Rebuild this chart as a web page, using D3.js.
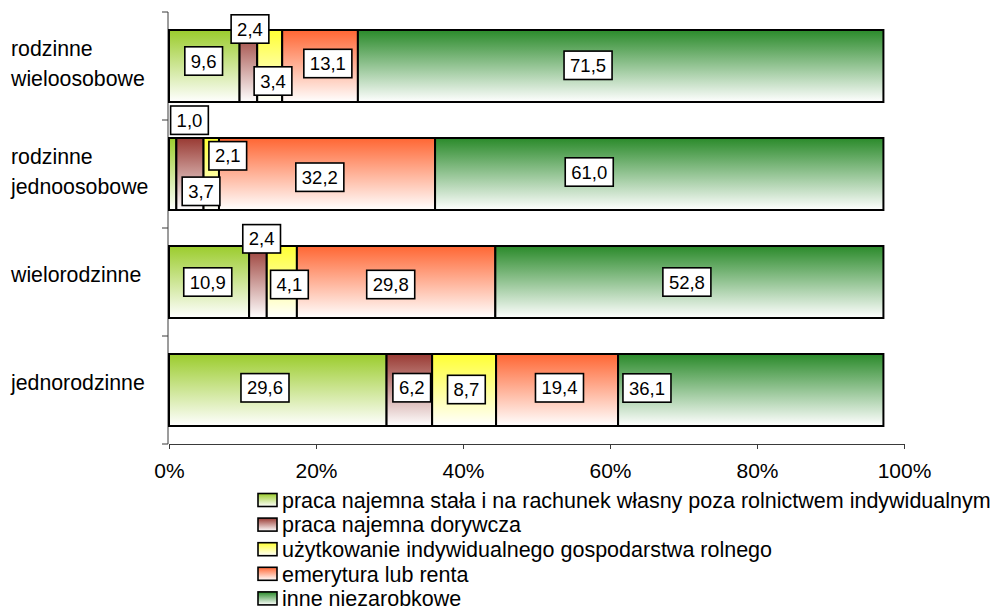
<!DOCTYPE html>
<html>
<head>
<meta charset="utf-8">
<script src="https://cdn.jsdelivr.net/npm/d3@7"></script>
<style>
  html, body { margin: 0; padding: 0; background: #fff; }
  svg text { font-family: "Liberation Sans", Arial, sans-serif; }
</style>
</head>
<body>
<svg id="chart" width="998" height="610"></svg>
<script>
// ---- data ----
const categories = ["rodzinne wieloosobowe", "rodzinne jednoosobowe", "wielorodzinne", "jednorodzinne"];
const categoryLines = [["rodzinne", "wieloosobowe"], ["rodzinne", "jednoosobowe"], ["wielorodzinne"], ["jednorodzinne"]];
const seriesNames = [
  "praca najemna stała i na rachunek własny poza rolnictwem indywidualnym",
  "praca najemna dorywcza",
  "użytkowanie indywidualnego gospodarstwa rolnego",
  "emerytura lub renta",
  "inne niezarobkowe"
];
const pracaStala    = [9.6, 1.0, 10.9, 29.6];
const pracaDorywcza = [2.4, 3.7, 2.4, 6.2];
const uzytkowanie   = [3.4, 2.1, 4.1, 8.7];
const emerytura     = [13.1, 32.2, 29.8, 19.4];   // printed labels
const emeryturaBar  = [10.3, 29.4, 27.0, 16.6];   // bar lengths as drawn in the picture
const inne          = [71.5, 61.0, 52.8, 36.1];
const xTicks = [0, 20, 40, 60, 80, 100];

// ---- styling / layout ----
const seriesColors = ["#9bcc2c", "#993a33", "#ffff33", "#ff6633", "#2a8a2a"];
const labelNudge = [
  [[-0.6, -5], [1.6, -37], [3.3, 15], [7.8, -2.5], [-32.6, -0.7]],
  [[16.8, -53.8], [11.1, 17.3], [16.5, -18.2], [-7.2, 3.2], [-70, -2]],
  [[-1.3, 0], [3.7, -43.2], [7.6, 2.5], [-5.4, 2.5], [-2.5, 0]],
  [[-12.8, -2.2], [2.4, -2.3], [2.3, -0.5], [2.4, -2.2], [-103.8, -2]]
];

const barValues = [pracaStala, pracaDorywcza, uzytkowanie, emeryturaBar, inne];
const labelValues = [pracaStala, pracaDorywcza, uzytkowanie, emerytura, inne];

const svg = d3.select("#chart");
const defs = svg.append("defs");
seriesColors.forEach((c, i) => {
  const g = defs.append("linearGradient").attr("id", "grad" + i)
    .attr("x1", 0).attr("y1", 0).attr("x2", 0).attr("y2", 1);
  g.append("stop").attr("offset", "0%").attr("stop-color", c);
  g.append("stop").attr("offset", "100%").attr("stop-color", "#ffffff");
});

const x = d3.scaleLinear().domain([0, 100]).range([169, 904]);
const y = d3.scaleBand().domain(categories).range([12, 444]).padding(0);
const barH = y.bandwidth() * 2 / 3;
const fmt = v => d3.format(".1f")(v).replace(".", ",");

// axes
const axisColor = "#3a3a3a";
const xAxis = svg.append("g").attr("transform", "translate(0,444)")
  .call(d3.axisBottom(x).tickValues(xTicks).tickFormat(d => d + "%").tickSize(5).tickSizeOuter(0));
xAxis.select(".domain").attr("stroke", axisColor);
xAxis.selectAll(".tick line").attr("stroke", axisColor);
xAxis.selectAll(".tick text").attr("font-size", "21px").attr("fill", "#000").attr("y", 33.5).attr("dy", 0)
  .style("font-family", "'Liberation Sans', Arial, sans-serif");

// y axis line with ticks at band boundaries
const yEdges = categories.map(c => y(c)).concat([y.range()[1]]);
svg.append("line").attr("x1", x(0) - 1).attr("x2", x(0) - 1)
  .attr("y1", y.range()[0]).attr("y2", y.range()[1]).attr("stroke", axisColor);
svg.selectAll(".ytick").data(yEdges).enter().append("line")
  .attr("x1", x(0) - 7).attr("x2", x(0) - 1)
  .attr("y1", d => d).attr("y2", d => d).attr("stroke", axisColor);

// category labels
categories.forEach((c, r) => {
  const lines = categoryLines[r];
  const cy = y(c) + y.bandwidth() / 2;
  const baseYs = lines.length === 1 ? [cy] : [cy - 10, cy + 20];
  lines.forEach((ln, k) => {
    svg.append("text").attr("x", 11).attr("y", baseYs[k])
      .attr("font-size", "21.3px").attr("fill", "#000").text(ln);
  });
});

// bars
categories.forEach((c, r) => {
  let acc = 0;
  const by = y(c) + (y.bandwidth() - barH) / 2;
  barValues.forEach((arr, s) => {
    const v = arr[r];
    svg.append("rect")
      .attr("x", x(acc)).attr("y", by)
      .attr("width", x(acc + v) - x(acc)).attr("height", barH)
      .attr("fill", `url(#grad${s})`)
      .attr("stroke", "#000").attr("stroke-width", 2);
    acc += v;
  });
});

// data labels
categories.forEach((c, r) => {
  let acc = 0;
  const cy = y(c) + y.bandwidth() / 2;
  barValues.forEach((arr, s) => {
    const v = arr[r];
    const cx = (x(acc) + x(acc + v)) / 2;
    acc += v;
    const [dx, dy] = labelNudge[r][s];
    const g = svg.append("g").attr("transform", `translate(${cx + dx},${cy + dy})`);
    const t = g.append("text").attr("text-anchor", "middle").attr("dy", "0.36em")
      .attr("font-size", "18.5px").attr("fill", "#000").text(fmt(labelValues[s][r]));
    const w = t.node().getComputedTextLength() + 12;
    g.insert("rect", "text").attr("x", -w / 2).attr("y", -14.2).attr("width", w).attr("height", 28.4)
      .attr("fill", "#fff").attr("stroke", "#000").attr("stroke-width", 1.6);
  });
});

// legend
const legend = svg.append("g");
seriesNames.forEach((n, i) => {
  const ly = 500 + i * 24.6;
  legend.append("rect").attr("x", 258).attr("y", ly - 6.5).attr("width", 19).attr("height", 13)
    .attr("fill", `url(#grad${i})`).attr("stroke", "#000").attr("stroke-width", 1.6);
  legend.append("text").attr("x", 282).attr("y", ly).attr("dy", "0.36em")
    .attr("font-size", "21.5px").attr("fill", "#000").text(n);
});
</script>
</body>
</html>
